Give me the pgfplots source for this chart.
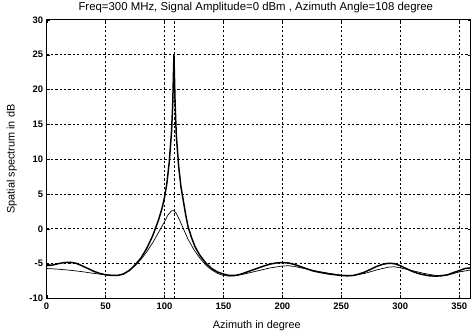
\documentclass[border=0pt]{standalone}
\usepackage{fontspec}
\setmainfont{Liberation Sans}
\usepackage{pgfplots}
\pgfplotsset{compat=1.18}
\begin{document}
\begin{tikzpicture}
\begin{axis}[
  name=ax,
  scale only axis,
  width=428pt, height=281pt,
  xmin=0, xmax=360, ymin=-10, ymax=30,
  xtick={0,50,100,150,200,250,300,350},
  ytick={-10,-5,0,5,10,15,20,25,30},
  extra x ticks={108}, extra x tick labels={},
  extra x tick style={grid=major, major tick length=0pt},
  grid=major,
  major grid style={black, dash pattern=on 2.2pt off 2.2pt, line width=0.8pt},
  axis line style={black, line width=1.1pt},
  tick align=inside, major tick length=3pt,
  tick style={black},
  tick label style={font=\fontsize{9.5}{11}\selectfont\bfseries},
  /pgf/number format/assume math mode=true,
  xticklabel style={yshift=-1pt},
  title={\fontsize{11.5}{13}\selectfont Freq=300 MHz, Signal Amplitude=0 dBm , Azimuth Angle=108 degree},
  every axis title shift=0pt,
  title style={at={(axis description cs:0.5,1)}, anchor=center, yshift=12pt, xshift=-3pt},
  xlabel={\fontsize{11}{13}\selectfont Azimuth in degree},
  ylabel={\fontsize{11}{13}\selectfont Spatial spectrum in dB},
  xlabel style={at={(axis description cs:0.5,0)}, anchor=center, yshift=-27pt, xshift=-2pt},
  ylabel style={at={(axis description cs:0,0.5)}, anchor=center, yshift=35pt},
]
\addplot[black, line width=1.5pt] coordinates {
(0,-5.3) (5,-5.2) (10,-5.0) (15,-4.85) (20,-4.8) (25,-4.95) (30,-5.3) (35,-5.7) (40,-6.1) (45,-6.4) (50,-6.6) (55,-6.7) (60,-6.7) (65,-6.5) (70,-6.0) (75,-5.2) (80,-4.2) (85,-2.8) (90,-1.0) (95,1.3) (98,3.0) (100,4.5) (102,6.5) (104,9.5) (106,14) (107,18) (108,25) (109,18) (110,13.5) (112,9) (114,6) (116,4) (118,2) (120,0.3) (123,-1.3) (126,-2.6) (130,-3.8) (135,-4.9) (140,-5.7) (145,-6.2) (150,-6.5) (155,-6.7) (160,-6.7) (165,-6.5) (170,-6.2) (175,-5.9) (180,-5.6) (185,-5.3) (190,-5.05) (195,-4.9) (200,-4.85) (205,-4.9) (210,-5.1) (215,-5.4) (220,-5.7) (225,-6.0) (230,-6.2) (240,-6.5) (250,-6.7) (255,-6.75) (260,-6.7) (265,-6.5) (270,-6.2) (275,-5.8) (280,-5.4) (285,-5.1) (290,-4.95) (295,-5.0) (300,-5.3) (305,-5.7) (310,-6.1) (315,-6.4) (320,-6.6) (325,-6.75) (330,-6.8) (335,-6.75) (340,-6.6) (345,-6.3) (350,-6.0) (355,-5.7) (360,-5.6)
};
\addplot[black, line width=0.7pt] coordinates {
(0,-5.7) (10,-5.8) (20,-5.95) (30,-6.15) (40,-6.4) (50,-6.6) (60,-6.7) (65,-6.5) (70,-6.0) (75,-5.3) (80,-4.4) (85,-3.3) (90,-2.0) (95,-0.5) (100,1.0) (103,2.0) (106,2.6) (108,2.6) (110,2.2) (113,1.2) (116,0) (120,-1.5) (125,-3.0) (130,-4.2) (135,-5.2) (140,-5.9) (145,-6.4) (150,-6.7) (155,-6.8) (160,-6.75) (170,-6.4) (180,-6.0) (190,-5.6) (200,-5.35) (205,-5.3) (210,-5.4) (220,-5.75) (230,-6.1) (240,-6.4) (250,-6.65) (260,-6.7) (270,-6.4) (280,-5.9) (290,-5.5) (295,-5.45) (300,-5.6) (310,-6.0) (320,-6.4) (330,-6.7) (340,-6.65) (350,-6.2) (360,-5.9)
};
\end{axis}
\pgfresetboundingbox
\path (ax.south west) ++(-47pt,-33pt) coordinate (bbA);
\path (ax.north east) ++(-4pt,20pt) coordinate (bbB);
\useasboundingbox (bbA) rectangle (bbB);
\end{tikzpicture}
\end{document}
